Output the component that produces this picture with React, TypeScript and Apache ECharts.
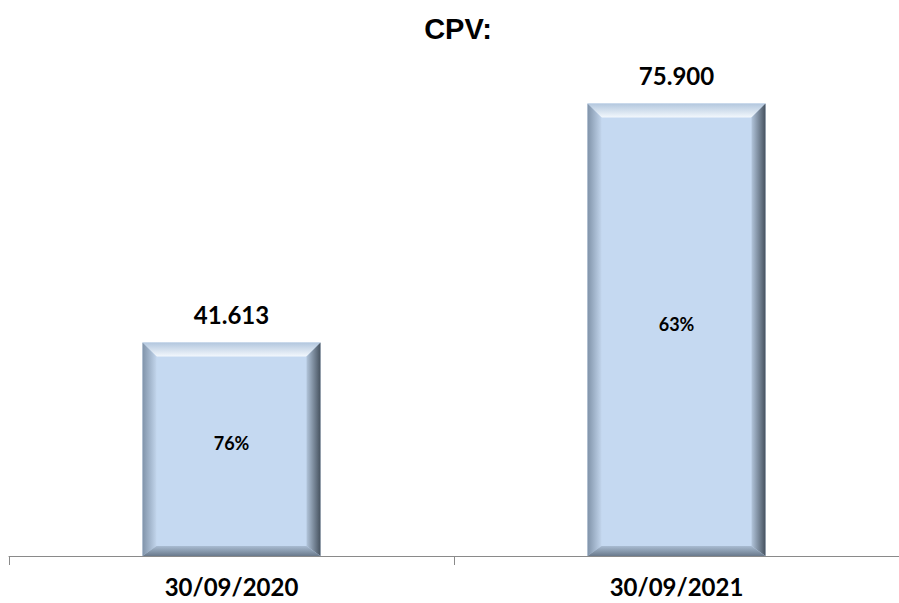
import React, { useEffect, useRef } from "react";
import * as echarts from "echarts";

const categories = ["30/09/2020", "30/09/2021"];
const values = [41613, 75900];
const shares = [76, 63];
const titleText = "CPV:";

const Y_MIN = 11000;
const Y_MAX = 80000;

const fmtThousands = (v: number) =>
  String(Math.round(v)).replace(/\B(?=(\d{3})+(?!\d))/g, ".");

const lg = (x0: number, y0: number, x1: number, y1: number, c0: string, c1: string) =>
  new echarts.graphic.LinearGradient(x0, y0, x1, y1, [
    { offset: 0, color: c0 },
    { offset: 1, color: c1 },
  ]);

export default function App() {
  const ref = useRef<HTMLDivElement>(null);

  useEffect(() => {
    if (!ref.current) return;
    const chart = echarts.init(ref.current, null, { renderer: "svg" });

    const renderItem = (params: any, api: any) => {
      const idx = api.value(0);
      const v = api.value(1);
      const share = api.value(2);
      const top = api.coord([idx, v]);
      const base = api.coord([idx, Y_MIN]);
      const bw = api.size([1, 0])[0] * 0.4;
      const x0 = top[0] - bw / 2;
      const x1 = top[0] + bw / 2;
      const y0 = top[1];
      const y1 = base[1];
      const b = 14;
      const bb = 10;
      const cx = top[0];
      return {
        type: "group",
        children: [
          {
            type: "rect",
            shape: { x: x0, y: y0, width: bw, height: y1 - y0 },
            style: { fill: "#c5d9f1" },
          },
          {
            type: "polygon",
            shape: { points: [[x0, y0], [x1, y0], [x1 - b, y0 + b], [x0 + b, y0 + b]] },
            style: { fill: lg(0, 0, 0, 1, "#b3c7de", "#f3f8fd") },
          },
          {
            type: "polygon",
            shape: { points: [[x0, y0], [x0 + b, y0 + b], [x0 + b, y1 - bb], [x0, y1]] },
            style: { fill: lg(0, 0, 1, 0, "#8093a9", "#c2d5ec") },
          },
          {
            type: "polygon",
            shape: { points: [[x1, y0], [x1, y1], [x1 - b, y1 - bb], [x1 - b, y0 + b]] },
            style: { fill: lg(0, 0, 1, 0, "#b2c5db", "#46525f") },
          },
          {
            type: "polygon",
            shape: { points: [[x0, y1], [x0 + b, y1 - bb], [x1 - b, y1 - bb], [x1, y1]] },
            style: { fill: lg(0, 0, 0, 1, "#a9bcd2", "#6a7a8c") },
          },
          {
            type: "text",
            x: cx,
            y: y0 - 28,
            style: {
              text: fmtThousands(v),
              textAlign: "center",
              textVerticalAlign: "middle",
              fill: "#000",
              fontFamily: "Lato",
              fontWeight: "bold",
              fontSize: 24,
            },
          },
          {
            type: "text",
            x: cx,
            y: (y0 + y1) / 2 - 6,
            style: {
              text: share + "%",
              textAlign: "center",
              textVerticalAlign: "middle",
              fill: "#000",
              fontFamily: "Lato",
              fontWeight: "bold",
              fontSize: 18,
            },
          },
        ],
      };
    };

    chart.setOption({
      animation: false,
      backgroundColor: "#ffffff",
      graphic: [
        {
          type: "text",
          x: 458,
          y: 29,
          style: {
            text: titleText,
            textAlign: "center",
            textVerticalAlign: "middle",
            fill: "#000",
            fontFamily: "Liberation Sans",
            fontWeight: "bold",
            fontSize: 29,
          },
        },
      ],
      grid: { left: 9, top: 75, width: 898, height: 481, containLabel: false },
      xAxis: {
        type: "category",
        data: categories,
        axisLine: { onZero: false, lineStyle: { color: "#8a8a8a", width: 1 } },
        axisTick: { show: true, length: 9, lineStyle: { color: "#8a8a8a" } },
        axisLabel: {
          color: "#000",
          fontFamily: "Lato",
          fontWeight: "bold",
          fontSize: 24,
          margin: 18,
        },
      },
      yAxis: { type: "value", min: Y_MIN, max: Y_MAX, show: false },
      series: [
        {
          type: "custom",
          renderItem,
          encode: { x: 0, y: 1 },
          data: values.map((v, i) => [i, v, shares[i]]),
          clip: false,
        },
      ],
    });

    return () => chart.dispose();
  }, []);

  return (
    <div
      ref={ref}
      style={{ position: "fixed", left: 0, top: 0, width: 899, height: 603 }}
    />
  );
}
